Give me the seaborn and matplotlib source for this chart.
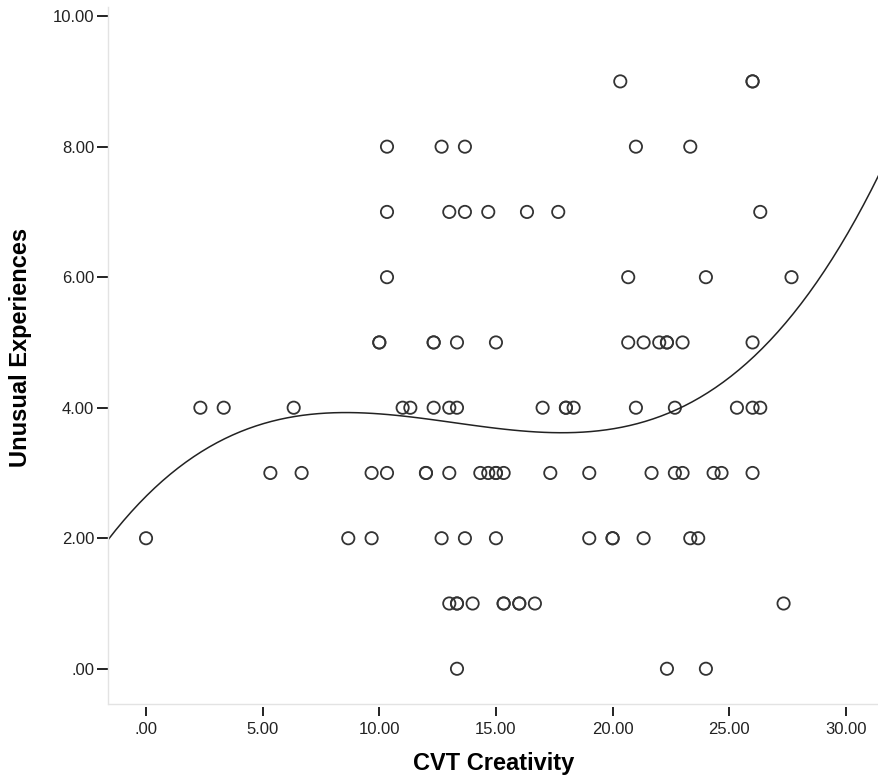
import matplotlib
matplotlib.use("Agg")
from matplotlib import pyplot as plt
import pandas as pd
import seaborn as sns

# CVT creativity score for each participant, grouped by unusual experiences score
creativity_9 = [20.33, 26.0, 26.0]
creativity_8 = [10.33, 12.67, 13.67, 21.0, 23.33]
creativity_7 = [10.33, 13.0, 13.67, 14.67, 16.33, 17.67, 26.33]
creativity_6 = [10.33, 20.67, 24.0, 27.67]
creativity_5 = [10.0, 10.0, 12.33, 12.33, 13.33, 15.0, 20.67, 21.33, 22.0,
                22.33, 22.33, 23.0, 26.0]
creativity_4 = [2.33, 3.33, 6.33, 11.0, 11.33, 12.33, 13.0, 13.33, 17.0, 18.0,
                18.0, 18.33, 21.0, 22.67, 25.33, 26.0, 26.33]
creativity_3 = [5.33, 6.67, 9.67, 10.33, 12.0, 12.0, 13.0, 14.33, 14.67, 15.0,
                15.0, 15.33, 17.33, 19.0, 21.67, 22.67, 23.0, 24.33, 24.67, 26.0]
creativity_2 = [0.0, 8.67, 9.67, 12.67, 13.67, 15.0, 19.0, 20.0, 20.0, 21.33,
                23.33, 23.67]
creativity_1 = [13.0, 13.33, 13.33, 14.0, 15.33, 15.33, 16.0, 16.0, 16.67, 27.33]
creativity_0 = [13.33, 22.33, 24.0]

groups = {9: creativity_9, 8: creativity_8, 7: creativity_7, 6: creativity_6,
          5: creativity_5, 4: creativity_4, 3: creativity_3, 2: creativity_2,
          1: creativity_1, 0: creativity_0}

x_ticks = [0, 5, 10, 15, 20, 25, 30]
x_labels = [".00", "5.00", "10.00", "15.00", "20.00", "25.00", "30.00"]
y_ticks = [0, 2, 4, 6, 8, 10]
y_labels = [".00", "2.00", "4.00", "6.00", "8.00", "10.00"]

rows = []
for unusual, scores in groups.items():
    for s in scores:
        rows.append({"CVT Creativity": s, "Unusual Experiences": unusual})
df = pd.DataFrame(rows)

sns.set_style("white")
plt.rcParams['font.family'] = ['Liberation Sans', 'DejaVu Sans']

fig = plt.figure(figsize=(8.79, 7.83), dpi=100)
ax = fig.add_axes([108 / 879, 79 / 783, 1 - 108 / 879, 776 / 783 - 79 / 783])
ax.set_xlim(-1.63, 31.42)
ax.set_ylim(-0.54, 10.14)

# cubic fit across the whole x range, like SPSS
sns.regplot(data=df, x="CVT Creativity", y="Unusual Experiences", order=3,
            ci=None, truncate=False, color="black", ax=ax,
            scatter_kws={"facecolors": "none", "edgecolors": "#333333",
                         "s": 78, "linewidths": 1.3, "alpha": 1},
            line_kws={"color": "#222222", "linewidth": 1.1})

ax.set_xlim(-1.63, 31.42)
ax.set_ylim(-0.54, 10.14)

ax.set_xticks(x_ticks)
ax.set_xticklabels(x_labels)
ax.set_yticks(y_ticks)
ax.set_yticklabels(y_labels)

for side in ["top", "right"]:
    ax.spines[side].set_visible(False)
ax.spines["left"].set_color("#e3e3e3")
ax.spines["left"].set_linewidth(1)
# bottom ticks sit a little below the frame line
ax.spines["bottom"].set_position(("outward", 2.2))
ax.spines["bottom"].set_color("none")
ax.plot([0, 1], [0, 0], transform=ax.transAxes, color="#e3e3e3",
        linewidth=1, clip_on=False)

ax.tick_params(axis="y", direction="out", length=7.9, width=1.4,
               color="#222222", pad=2, labelsize=12, left=True,
               labelcolor="#222222")
ax.tick_params(axis="x", direction="out", length=6.5, width=1.4,
               color="#222222", pad=4, labelsize=12, bottom=True,
               labelcolor="#222222")

ax.set_xlabel("CVT Creativity", fontsize=17, fontweight="bold",
              color="black", labelpad=11)
ax.set_ylabel("Unusual Experiences", fontsize=17, fontweight="bold",
              color="black")
ax.yaxis.set_label_coords(-0.099, 0.512)

fig.savefig("out.png", dpi=100)
